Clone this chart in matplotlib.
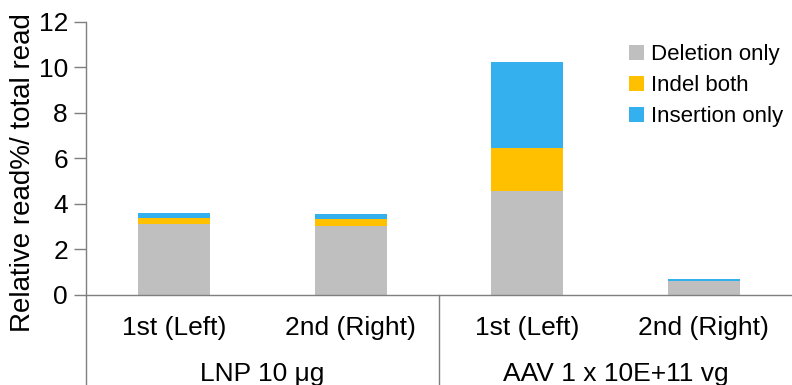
import numpy as np
import matplotlib.pyplot as plt

plt.rcParams['font.family'] = ['Liberation Sans', 'DejaVu Sans']

# data
categories = ['1st (Left)', '2nd (Right)', '1st (Left)', '2nd (Right)']
groups = ['LNP 10 μg', 'AAV 1 x 10E+11 vg']
deletion_only = [3.10, 3.02, 4.57, 0.63]
indel_both = [0.29, 0.31, 1.89, 0.00]
insertion_only = [0.23, 0.23, 3.78, 0.06]

fig = plt.figure(figsize=(7.92, 3.85), dpi=100)
ax = fig.add_axes([0.1086, 0.234, 0.8914, 0.709])

x = np.arange(len(categories))
w = 0.41
b1 = np.array(deletion_only)
b2 = b1 + np.array(indel_both)
ax.bar(x, deletion_only, w, color='#bfbfbf', label='Deletion only')
ax.bar(x, indel_both, w, bottom=b1, color='#ffc000', label='Indel both')
ax.bar(x, insertion_only, w, bottom=b2, color='#35b0ef', label='Insertion only')

ax.set_xlim(-0.5, len(categories) - 0.5)
ax.set_ylim(0, 12)
ax.set_yticks(range(0, 13, 2))
ax.tick_params(axis='y', direction='out', length=9, width=1, color='#7f7f7f',
               labelsize=19, pad=4)
ax.set_xticks([])
ax.set_ylabel('Relative read%/ total read', fontsize=20, labelpad=0)
ax.yaxis.set_label_coords(-0.071, 0.45)

for s in ['top', 'right']:
    ax.spines[s].set_visible(False)
for s in ['left', 'bottom']:
    ax.spines[s].set_color('#7f7f7f')
    ax.spines[s].set_linewidth(1)

# extend y axis line and group divider below the plot
ax.plot([0, 0], [0, -0.33], transform=ax.transAxes, color='#7f7f7f', lw=1, clip_on=False)
ax.plot([0.5, 0.5], [0, -0.33], transform=ax.transAxes, color='#7f7f7f', lw=1, clip_on=False)

for xi, c in zip(x, categories):
    ax.text(xi, -0.12, c, transform=ax.get_xaxis_transform(), ha='center', va='center', fontsize=19)
for gi, g in enumerate(groups):
    ax.text(0.25 + 0.5 * gi, -0.29, g, transform=ax.transAxes, ha='center', va='center', fontsize=19)

ax.legend(loc='upper right', bbox_to_anchor=(1.0, 0.95), frameon=False, fontsize=16,
          handlelength=0.7, handleheight=0.7, handletextpad=0.3, labelspacing=0.45,
          borderaxespad=0.0)

fig.savefig('out.png', dpi=100)
